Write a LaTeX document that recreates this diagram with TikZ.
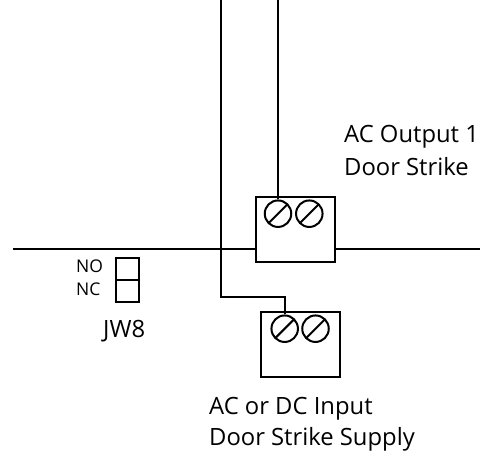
\documentclass[tikz,border=0pt]{standalone}
\usepackage{fontspec}
\setmainfont{Open Sans}
\tikzset{
  wire/.style={line width=2pt,line cap=butt,line join=miter},
  termbox/.style={draw,line width=2pt,minimum width=79pt,minimum height=65pt,inner sep=0pt,anchor=north west},
  screw/.style={draw,circle,line width=2pt,minimum size=26.5pt,inner sep=0pt},
  lab/.style={anchor=base west,inner sep=0pt,font=\fontsize{23.8}{26}\selectfont},
  small/.style={anchor=base west,inner sep=0pt,font=\fontsize{17.5}{20}\selectfont},
  jump/.style={draw,line width=2pt,minimum width=23pt,minimum height=22pt,inner sep=0pt,anchor=north west}
}
\newcommand{\screwslash}[1]{\draw[wire] ([shift={(-9.2pt,-9.2pt)}]#1.center) -- ([shift={(9.2pt,9.2pt)}]#1.center);}
\begin{document}
\begin{tikzpicture}[x=1pt,y=-1pt]
\useasboundingbox (0,0) rectangle (480,453);
\node[termbox] (b1) at (254.5,196) {};
\node[termbox] (b2) at (260.3,311.3) {};
\node[screw] (s1) at (278,213.7) {};
\node[screw] (s2) at (309.3,213.7) {};
\node[screw] (s3) at (284.7,328.7) {};
\node[screw] (s4) at (315.5,328.7) {};
\foreach \n in {s1,s2,s3,s4}{\screwslash{\n}}
\coordinate (t1) at (278,0);
\coordinate (t2) at (221,0);
\coordinate (l1) at (13,249);
\coordinate (r1) at (480,249);
\coordinate (bend) at (221,297);
\draw[wire] (t1) -- (s1.north);
\draw[wire] (t2) -- (bend) -| (s3.north);
\draw[wire] (l1) -- (l1 -| b1.west);
\draw[wire] (r1 -| b1.east) -- (r1);
\node[jump] (j1) at (115,256.8) {};
\node[jump] (j2) at (115,278.8) {};
\node[small] (no) at (76,272.7) {NO};
\node[small] (nc) at (76,295.7) {NC};
\node[lab] (jw) at (103,337) {JW8};
\node[lab] (a1) at (344,142) {AC Output 1};
\node[lab] (a2) at (344,175) {Door Strike};
\node[lab] (c1) at (209,414) {AC or DC Input};
\node[lab] (c2) at (209,445) {Door Strike Supply};
\end{tikzpicture}
\end{document}
